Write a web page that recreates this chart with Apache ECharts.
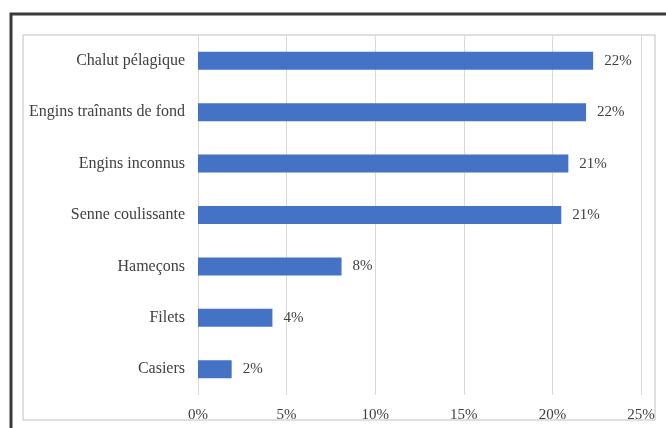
<!DOCTYPE html>
<html>
<head>
<meta charset="utf-8">
<style>
  html, body { margin: 0; padding: 0; background: #fff; }
  #chart { width: 666px; height: 428px; }
</style>
<script src="https://cdn.jsdelivr.net/npm/echarts@6/dist/echarts.min.js"></script>
</head>
<body>
<div id="chart"></div>
<script>
var myChart = echarts.init(document.getElementById('chart'));

// categories bottom -> top (category axis draws first item at the bottom)
var categories = ['Casiers', 'Filets', 'Hameçons', 'Senne coulissante', 'Engins inconnus', 'Engins traînants de fond', 'Chalut pélagique'];
var values = [1.9, 4.2, 8.1, 20.5, 20.9, 21.9, 22.3];

var serif = 'Liberation Serif';

var option = {
  animation: false,
  graphic: [
    {
      type: 'rect',
      shape: { x: 11, y: 14, width: 680, height: 440 },
      style: { fill: 'none', stroke: '#3a3a3a', lineWidth: 3 }
    },
    {
      type: 'rect',
      shape: { x: 23, y: 35, width: 632, height: 385 },
      style: { fill: 'none', stroke: '#bfbfbf', lineWidth: 1 }
    }
  ],
  grid: {
    left: 198,
    right: 25,
    top: 35,
    bottom: 33
  },
  xAxis: {
    type: 'value',
    min: 0,
    max: 25,
    interval: 5,
    axisLine: { show: false },
    axisTick: { show: false },
    splitLine: { show: true, lineStyle: { color: '#d9d9d9', width: 1 } },
    axisLabel: {
      margin: 13,
      fontFamily: serif,
      fontSize: 15,
      color: '#404040',
      formatter: function (v) { return v + '%'; }
    }
  },
  yAxis: {
    type: 'category',
    data: categories,
    axisLine: { show: false },
    axisTick: { show: false },
    axisLabel: {
      margin: 13,
      fontFamily: serif,
      fontSize: 16,
      color: '#404040'
    }
  },
  series: [
    {
      type: 'bar',
      data: values,
      barWidth: 18,
      itemStyle: { color: '#4472c4' },
      label: {
        show: true,
        position: 'right',
        distance: 11,
        fontFamily: serif,
        fontSize: 15,
        color: '#404040',
        formatter: function (p) { return Math.round(p.value) + '%'; }
      }
    }
  ]
};

myChart.setOption(option);
</script>
</body>
</html>
